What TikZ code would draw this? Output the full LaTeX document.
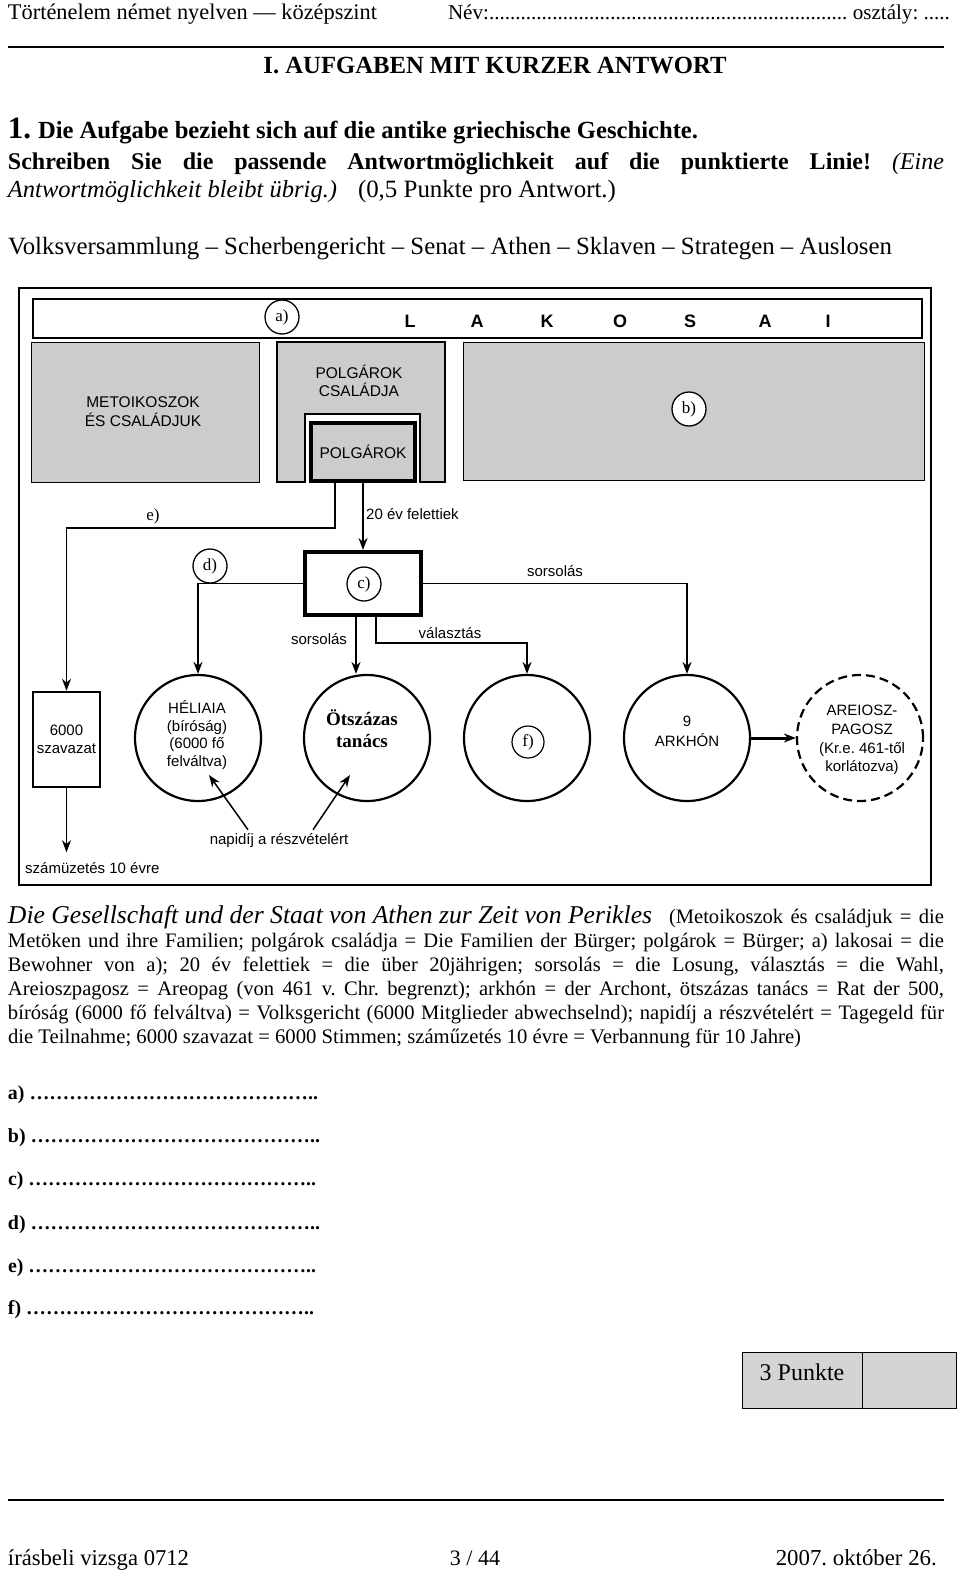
\documentclass[tikz,border=0pt]{standalone}
\usepackage{fontspec}
\usepackage{graphicx}
\setmainfont{Liberation Serif}
\newfontfamily\arialf{Liberation Sans}
\usetikzlibrary{arrows.meta}
\newcommand\fw[2]{\resizebox{#1pt}{!}{#2}}
\begin{document}
\frenchspacing
\begin{tikzpicture}[x=1pt,y=-1pt,
  txt/.style={anchor=base west,inner sep=0pt,outer sep=0pt},
  body/.style={txt,font=\fontsize{20.57}{24}\selectfont},
  big/.style={txt,font=\fontsize{24}{28}\selectfont},
  sf/.style={inner sep=0pt,font=\arialf\fontsize{15}{18}\selectfont,align=center},
  lab/.style={circle,draw,line width=1.3pt,fill=white,minimum size=34pt,inner sep=0pt,font=\fontsize{17}{17}\selectfont},
  grayb/.style={draw,line width=1.2pt,fill=black!20},
  conn/.style={line width=1.7pt},
  arr/.style={conn,-{Stealth[length=12pt,width=9pt]}},
  circ/.style={circle,draw,line width=2.2pt,minimum size=126pt,inner sep=0pt},
  letter/.style={font=\arialf\bfseries\fontsize{18}{18}\selectfont,inner sep=0pt},
]
\useasboundingbox (0,0) rectangle (960,1571);
\fill[white] (0,0) rectangle (960,1571);

% header
\node[txt,font=\fontsize{22}{24}\selectfont] (hd1) at (8,20) {\fw{369}{Történelem német nyelven — középszint}};
\node[txt,font=\fontsize{22}{24}\selectfont] (hd2) at (448,20) {\fw{502}{Név:.................................................................... osztály: .....}};
\draw[line width=2.5pt] (8,47) -- (944,47);
\node[anchor=base,inner sep=0pt,font=\bfseries\fontsize{24}{28}\selectfont] (title) at (495,74) {\fw{463}{I. AUFGABEN MIT KURZER ANTWORT}};

% task text
\node[txt,font=\bfseries\fontsize{31}{31}\selectfont] (num) at (8,138) {1.};
\node[txt,font=\bfseries\fontsize{24}{28}\selectfont] (q1) at (38,138) {\fw{660}{Die Aufgabe bezieht sich auf die antike griechische Geschichte.}};
\node[big] (q2) at (8,169) {\makebox[936pt][s]{\bfseries Schreiben Sie die passende Antwortmöglichkeit auf die punktierte Linie! \mdseries\itshape (Eine}};
\node[big] (q3a) at (8,197) {\fw{329}{\itshape Antwortmöglichkeit bleibt übrig.)}};
\node[big] (q3b) at (358,197) {\fw{258}{(0,5 Punkte pro Antwort.)}};
\node[big] (opts) at (8,254) {\fw{884}{Volksversammlung – Scherbengericht – Senat – Athen – Sklaven – Strategen – Auslosen}};

% diagram frame
\draw[line width=1.2pt] (19,288) rectangle (931,885);
\node[draw,line width=1.5pt,minimum width=889pt,minimum height=39pt,inner sep=0pt,anchor=north west] (band) at (32,298) {};
\foreach \xx/\lt/\nm in {410/L/l1,477/A/l2,547/K/l3,620/O/l4,690/S/l5,765/A/l6,828/I/l7}
  \node[letter] (\nm) at (\xx,321) {\lt};
\node[lab] (la) at (282,317) {a)};

% gray boxes
\node[grayb,minimum width=228pt,minimum height=140pt,inner sep=0pt,anchor=north west] (meto) at (31,342) {};
\node[sf,font=\arialf\fontsize{15.5}{19}\selectfont] (metot) at (143,412) {METOIKOSZOK\\ÉS CSALÁDJUK};
\draw[grayb] (277,342) -- (445,342) -- (445,482) -- (420,482) -- (420,414) -- (305,414) -- (305,482) -- (277,482) -- cycle;
\node[sf,font=\arialf\fontsize{15.5}{18}\selectfont] (csal) at (359,381) {POLGÁROK\\CSALÁDJA};
\node[draw,line width=4pt,fill=black!20,minimum width=104pt,minimum height=58pt,inner sep=0pt,font=\arialf\fontsize{15.5}{18}\selectfont] (polg) at (363,452) {POLGÁROK};
\node[grayb,minimum width=461pt,minimum height=138pt,inner sep=0pt,anchor=north west] (bbox) at (463,342) {};
\node[lab] (lb) at (689,409) {b)};

% c box and labels
\node[draw,line width=4pt,fill=white,minimum width=116pt,minimum height=63pt,inner sep=0pt] (cbox) at (363,583.5) {};
\node[lab] (lc) at (364,584) {c)};
\node[lab] (ld) at (210,566) {d)};

% circles
\node[circ] (helia) at (198,738) {};
\node[sf,font=\arialf\fontsize{15}{17.7}\selectfont] (heliat) at (197,735) {HÉLIAIA\\(bíróság)\\(6000 fő\\felváltva)};
\node[circ] (otsz) at (367,738) {};
\node[font=\bfseries\fontsize{19}{22}\selectfont,align=center,inner sep=0pt] (otszt) at (362,729) {Ötszázas\\tanács};
\node[circ] (fcirc) at (527,738) {};
\node[lab,minimum size=32pt,line width=1.2pt] (lf) at (528,742) {f)};
\node[circ] (arkh) at (687,738) {};
\node[sf,font=\arialf\fontsize{15}{20}\selectfont] (arkht) at (687,731) {9\\ARKHÓN};
\node[circ,dash pattern=on 9pt off 5pt] (areio) at (860,738) {};
\node[sf,font=\arialf\fontsize{15}{18.7}\selectfont] (areiot) at (862,740) {AREIOSZ-\\PAGOSZ\\(Kr.e. 461-től\\korlátozva)};

% 6000 szavazat
\node[draw,line width=2.5pt,minimum width=67pt,minimum height=95pt,inner sep=0pt,sf] (szav) at (66.5,739.5) {6000\\szavazat};
\node[sf,anchor=west] (exil) at (25,868) {számüzetés 10 évre};

% connectors
\draw[arr] ([xshift=-28pt]polg.south) -- ++(0,45) -| (szav.north);
\node[font=\fontsize{17}{17}\selectfont,inner sep=0pt] (le) at (153,516) {e)};
\draw[arr] (polg.south) -- (cbox.north);
\node[sf,anchor=west] (t20) at (366,514) {20 év felettiek};
\draw[arr] (cbox.west) -| (helia.north);
\draw[arr] ([xshift=-7pt]cbox.south) -- ([xshift=-7pt]cbox.south |- otsz.north);
\node[sf] (sors1) at (319,639) {sorsolás};
\draw[arr] ([xshift=13pt]cbox.south) -- ++(0,26) -| (fcirc.north);
\node[sf] (val) at (450,633) {választás};
\draw[arr] (cbox.east) -| (arkh.north);
\node[sf] (sors2) at (555,571) {sorsolás};
\draw[arr,line width=3pt] (arkh.east) -- (areio.west);
\draw[arr] (szav.south) -- ([yshift=10pt]szav.south |- exil.north);
\node[sf] (napi) at (279,841) {napidíj a részvételért};
\draw[arr,line width=1.5pt] ([xshift=-31pt,yshift=4pt]napi.north) -- ([shift={(11,37)}]helia.center);
\draw[arr,line width=1.5pt] ([xshift=34pt,yshift=4pt]napi.north) -- ([shift={(-17,37)}]otsz.center);

% caption
\node[txt,font=\itshape\fontsize{24}{24}\selectfont] (cap1) at (8,923) {\fw{644}{Die Gesellschaft und der Staat von Athen zur Zeit von Perikles}};
\node[body] (cap1b) at (669,923) {\makebox[275pt][s]{(Metoikoszok és családjuk = die}};
\node[body] (cap2) at (8,947) {\makebox[936pt][s]{Metöken und ihre Familien; polgárok családja = Die Familien der Bürger; polgárok = Bürger; a) lakosai = die}};
\node[body] (cap3) at (8,971) {\makebox[936pt][s]{Bewohner von a); 20 év felettiek = die über 20jährigen; sorsolás = die Losung, választás = die Wahl,}};
\node[body] (cap4) at (8,995) {\makebox[936pt][s]{Areioszpagosz = Areopag (von 461 v. Chr. begrenzt); arkhón = der Archont, ötszázas tanács = Rat der 500,}};
\node[body] (cap5) at (8,1019) {\makebox[936pt][s]{bíróság (6000 fő felváltva) = Volksgericht (6000 Mitglieder abwechselnd); napidíj a részvételért = Tagegeld für}};
\node[body] (cap6) at (8,1043) {\fw{793}{die Teilnahme; 6000 szavazat = 6000 Stimmen; száműzetés 10 évre = Verbannung für 10 Jahre)}};

% answers
\foreach \lt/\yy/\ww in {a/1099/310,b/1142/312,c/1185/308,d/1229/312,e/1272/308,f/1314/306}
  \node[txt,font=\bfseries\fontsize{22}{22}\selectfont] (ans\lt) at (8,\yy) {\fw{\ww}{\lt) ……………………………………..}};

% points box
\node[draw,line width=1.2pt,fill=black!17,minimum width=120pt,minimum height=56pt,inner sep=0pt,anchor=north west] (pts) at (742,1352) {};
\node[anchor=base,inner sep=0pt,font=\fontsize{24}{24}\selectfont] (ptst) at (802,1380) {3 Punkte};
\node[draw,line width=1.2pt,fill=black!17,minimum width=94pt,minimum height=56pt,inner sep=0pt,anchor=north west] (pts2) at (862,1352) {};

% footer
\draw[line width=2.5pt] (8,1500) -- (944,1500);
\node[txt,font=\fontsize{22}{22}\selectfont] (f1) at (8,1565) {\fw{181}{írásbeli vizsga 0712}};
\node[anchor=base,inner sep=0pt,font=\fontsize{22}{22}\selectfont] (f2) at (475,1565) {3 / 44};
\node[anchor=base east,inner sep=0pt,font=\fontsize{22}{22}\selectfont] (f3) at (937,1565) {\fw{161}{2007. október 26.}};
\end{tikzpicture}
\end{document}
